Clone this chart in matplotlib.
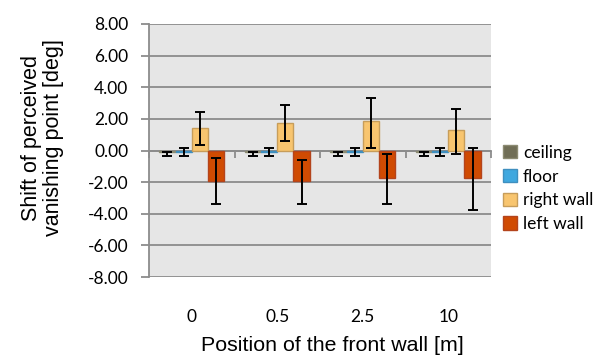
import numpy as np
import matplotlib
matplotlib.use("Agg")
import matplotlib.pyplot as plt
from matplotlib.ticker import FixedLocator

# datos
posiciones = ["0", "0.5", "2.5", "10"]
series = ["ceiling", "floor", "right wall", "left wall"]

techo = [-0.10, -0.10, -0.10, -0.10]
piso = [-0.08, -0.08, -0.08, -0.08]
pared_der = [1.45, 1.73, 1.85, 1.28]
pared_izq = [-1.96, -1.96, -1.73, -1.73]

# errores (abajo, arriba)
err_techo = [[0.22, 0.22, 0.22, 0.22], [0.0, 0.0, 0.0, 0.0]]
err_piso = [[0.24, 0.24, 0.24, 0.24], [0.23, 0.23, 0.23, 0.23]]
err_der = [[1.08, 1.14, 1.72, 1.49], [0.97, 1.13, 1.48, 1.35]]
err_izq = [[1.45, 1.45, 1.68, 2.04], [1.50, 1.39, 1.48, 1.88]]

valores = [techo, piso, pared_der, pared_izq]
errores = [err_techo, err_piso, err_der, err_izq]
relleno = ["#706e56", "#40a8df", "#f8c56f", "#d04b02"]
borde = ["#8c8b72", "#3f8fbf", "#c79d5a", "#b4441c"]

fig = plt.figure(figsize=(6.08, 3.59), dpi=100)
ax = fig.add_axes([149/608, 1 - 277/359, 342/608, 253/359])
ax.set_facecolor("#e6e6e6")

x = np.arange(len(posiciones))
w = 0.19
for i in range(len(series)):
    off = (i - 1.5) * w
    ax.bar(x + off, valores[i], w, color=relleno[i], edgecolor=borde[i],
           linewidth=1.0, label=series[i], zorder=3)
    ax.errorbar(x + off, valores[i], yerr=np.array(errores[i]), fmt="none",
                ecolor="black", elinewidth=1.4, capsize=3.6, capthick=1.4, zorder=4)

ax.set_ylim(-8, 8)
ax.set_xlim(-0.5, len(posiciones) - 0.5)
ax.set_yticks(np.arange(-8, 9, 2))
ax.set_yticklabels([f"{v:.2f}" for v in np.arange(-8, 9, 2)],
                   fontfamily="Lato", fontsize=12.5)
ax.grid(axis="y", color="#8c8c8c", linewidth=1.3, zorder=1)
ax.set_axisbelow(True)
ax.tick_params(axis="y", color="#8c8c8c", length=6, width=1.3, pad=9)

for s in ["top", "right"]:
    ax.spines[s].set_visible(False)
ax.spines["left"].set_color("#8c8c8c")
ax.spines["left"].set_linewidth(1.3)
ax.spines["bottom"].set_position(("data", 0))
ax.spines["bottom"].set_color("#8c8c8c")
ax.spines["bottom"].set_linewidth(1.3)
ax.spines["bottom"].set_zorder(2)

# marcas entre grupos sobre la linea de cero
ax.set_xticks([])
ax.xaxis.set_minor_locator(FixedLocator(np.arange(-0.5, len(posiciones), 1.0)))
ax.tick_params(axis="x", which="minor", direction="out", length=5,
               color="#8c8c8c", width=1.3)

sec = ax.secondary_xaxis("bottom")
sec.set_xticks(x)
sec.set_xticklabels(posiciones, fontfamily="Lato", fontsize=12.5)
sec.tick_params(length=0, pad=23)
sec.spines["bottom"].set_visible(False)
sec.set_xlabel("Position of the front wall [m]", fontfamily="Liberation Sans",
               fontsize=15.4, labelpad=8)
sec.xaxis.label.set_x(0.537)

ax.set_ylabel("Shift of perceived\nvanishing point [deg]",
              fontfamily="Liberation Sans", fontsize=15.5, labelpad=17,
              linespacing=1.08)
ax.yaxis.label.set_y(0.55)

ax.legend(loc="center left", bbox_to_anchor=(1.0, 0.35), frameon=False,
          prop={"family": "Lato", "size": 12.5}, handlelength=0.8,
          handleheight=0.8, handletextpad=0.35, labelspacing=0.45,
          borderaxespad=0.3)

fig.savefig("out.png", dpi=100)
